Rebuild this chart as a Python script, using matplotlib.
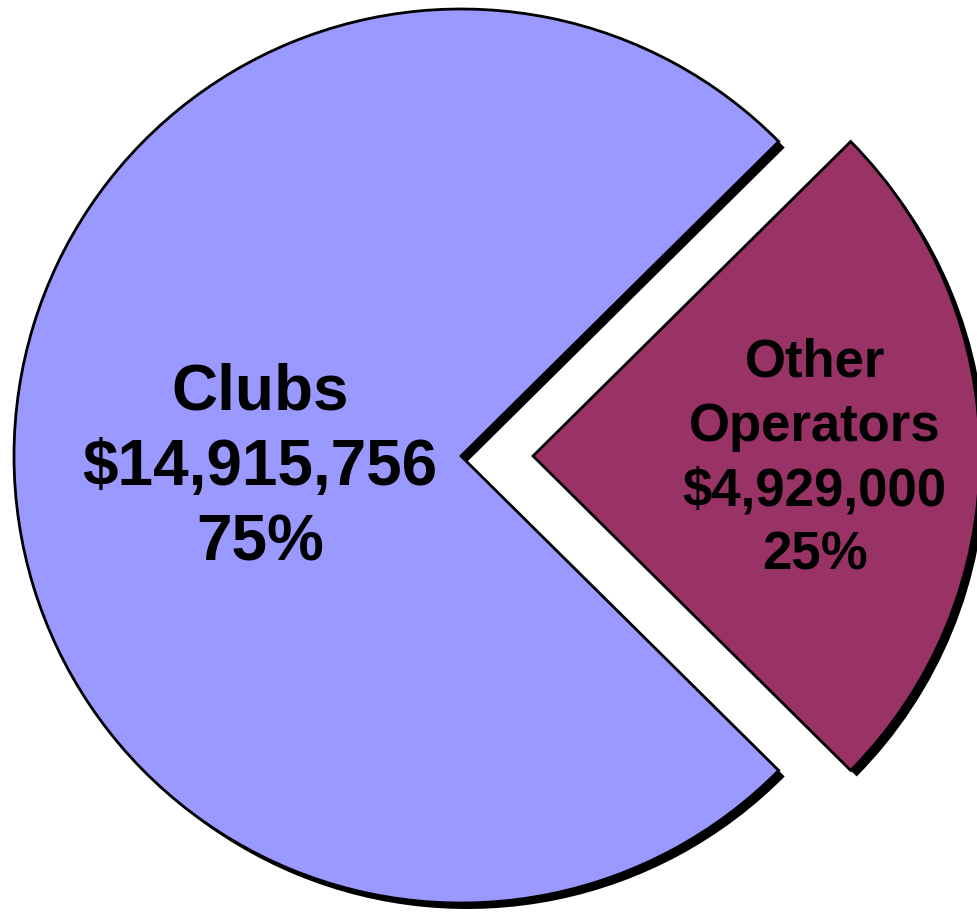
import numpy as np
import matplotlib
matplotlib.use('Agg')
import matplotlib.pyplot as plt

# data
names = ['Clubs', 'Other\nOperators']
amounts = [14915756, 4929000]
colors = ['#9999FF', '#993366']

# label placement / font per slice
label_dist = [0.45, 0.63]
label_dy = [-12, -3]
label_size = [46, 38]
label_spacing = [1.34, 1.37]

W, H = 977, 913
fig = plt.figure(figsize=(W / 100, H / 100), dpi=100)
ax = fig.add_axes([0, 0, 1, 1])

center = (461, 457)
radius = 447
explode = [0, 72]  # pie shifts wedges by this many data units
start = amounts[1] / sum(amounts) * 180

# shadow first, slightly offset down-right
ax.pie(amounts, colors=['black', 'black'], radius=radius, explode=explode,
       startangle=start, center=(center[0] + 6, center[1] - 6),
       wedgeprops=dict(linewidth=0))
wedges, _ = ax.pie(amounts, colors=colors, radius=radius, explode=explode,
                   startangle=start, center=center,
                   wedgeprops=dict(edgecolor='black', linewidth=2))

total = sum(amounts)
for w, name, amt, d, dy, fs, ls in zip(wedges, names, amounts, label_dist, label_dy,
                                       label_size, label_spacing):
    ang = np.deg2rad((w.theta1 + w.theta2) / 2)
    x = w.center[0] + d * w.r * np.cos(ang)
    y = w.center[1] + d * w.r * np.sin(ang) + dy
    txt = '%s\n$%s\n%d%%' % (name, format(amt, ','), round(amt / total * 100))
    ax.text(x, y, txt, ha='center', va='center', fontsize=fs, fontweight='bold',
            family='Liberation Sans', linespacing=ls, color='black')

ax.set_xlim(0, W)
ax.set_ylim(0, H)
ax.set_aspect('equal')
ax.axis('off')

fig.savefig('out.png', dpi=100)
